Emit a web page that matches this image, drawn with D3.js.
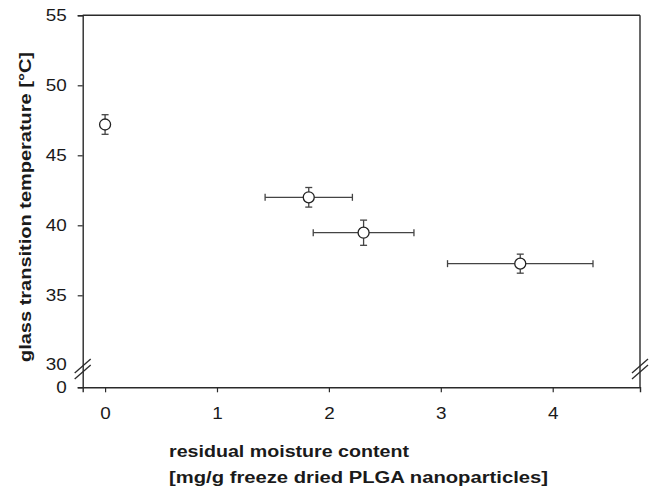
<!DOCTYPE html>
<html>
<head>
<meta charset="utf-8">
<script src="https://cdn.jsdelivr.net/npm/d3@7"></script>
<style>
  html, body { margin: 0; padding: 0; background: #fff; }
  svg { display: block; }
  text { font-family: Arial, "Liberation Sans", Helvetica, sans-serif; fill: #1a1a1a; }
</style>
</head>
<body>
<svg id="chart" width="654" height="489"></svg>
<script>
// ---- data ----
const moisture    = [0, 1.82, 2.31, 3.71];
const moistureErr = [0, 0.39, 0.45, 0.65];
const tg          = [47.2, 42.0, 39.47, 37.26];
const tgErr       = [0.7, 0.7, 0.9, 0.68];
const xTicks = [0, 1, 2, 3, 4];
const yTicks = [0, 35, 40, 45, 50, 55];
const yTickLabels = [0, 30, 35, 40, 45, 50, 55];
const xTitle = ["residual moisture content", "[mg/g freeze dried PLGA nanoparticles]"];
const yTitle = "glass transition temperature [°C]";

const svg = d3.select("#chart");
const L = 82.7, R = 640, T = 15.3, B = 387.3;
const SX = 1.18; // horizontal stretch of the label glyphs

const x = d3.scaleLinear().domain([-0.2, 4.78]).range([L, R]);
// broken axis: 0 .. 30 compressed, 30 .. 55 linear
const y = d3.scaleLinear().domain([0, 30, 55]).range([B, 365.3, T]);

const stroke = "#2a2a2a";

// frame (top & right)
svg.append("line").attr("x1", L).attr("x2", R).attr("y1", T).attr("y2", T)
  .attr("stroke", stroke).attr("stroke-width", 1.4);
svg.append("line").attr("x1", R).attr("x2", R).attr("y1", T).attr("y2", B)
  .attr("stroke", stroke).attr("stroke-width", 1.4);

// x axis
const gx = svg.append("g").attr("transform", `translate(0,${B})`)
  .call(d3.axisBottom(x).tickValues(xTicks).tickSizeOuter(0).tickSize(5).tickPadding(15).tickFormat(d3.format("d")));
gx.select(".domain").attr("stroke", stroke).attr("stroke-width", 1.4);
gx.selectAll(".tick line").attr("stroke", stroke).attr("stroke-width", 1.2);
gx.selectAll(".tick text").attr("font-size", 16).attr("fill", "#1a1a1a")
  .attr("transform", `scale(${SX},1)`);

// y axis
const gy = svg.append("g").attr("transform", `translate(${L},0)`)
  .call(d3.axisLeft(y).tickValues(yTicks).tickSizeOuter(0).tickSize(5).tickPadding(11).tickFormat(d3.format("d")));
gy.select(".domain").attr("stroke", stroke).attr("stroke-width", 1.4);
gy.selectAll(".tick line").attr("stroke", stroke).attr("stroke-width", 1.2);
gy.selectAll(".tick text").attr("font-size", 16).attr("fill", "#1a1a1a")
  .attr("x", -16 / SX).attr("transform", `scale(${SX},1)`);
// label "30" at the break (no tick mark)
gy.append("text").attr("x", -16 / SX).attr("y", y(30)).attr("dy", "0.32em")
  .attr("transform", `scale(${SX},1)`)
  .attr("text-anchor", "end").attr("font-size", 16).attr("fill", "#1a1a1a").text(yTickLabels[1]);

// break marks
function breakMark(cx, cy) {
  [-3, 3].forEach(off => {
    svg.append("line")
      .attr("x1", cx - 8).attr("y1", cy + off + 7)
      .attr("x2", cx + 8).attr("y2", cy + off - 7)
      .attr("stroke", stroke).attr("stroke-width", 1.3);
  });
}
breakMark(L, 369);
breakMark(R, 369);

// data
const data = moisture.map((m, i) => ({ x: m, xe: moistureErr[i], y: tg[i], ye: tgErr[i] }));
const g = svg.append("g");
const errColor = "#444";
data.forEach(d => {
  const cx = x(d.x), cy = y(d.y);
  if (d.xe > 0) {
    const x0 = x(d.x - d.xe), x1 = x(d.x + d.xe);
    g.append("line").attr("x1", x0).attr("x2", x1).attr("y1", cy).attr("y2", cy)
      .attr("stroke", errColor).attr("stroke-width", 1.3);
    [x0, x1].forEach(xx => g.append("line").attr("x1", xx).attr("x2", xx)
      .attr("y1", cy - 3.5).attr("y2", cy + 3.5).attr("stroke", errColor).attr("stroke-width", 1.3));
  }
  const y0 = y(d.y - d.ye), y1 = y(d.y + d.ye);
  g.append("line").attr("x1", cx).attr("x2", cx).attr("y1", y0).attr("y2", y1)
    .attr("stroke", errColor).attr("stroke-width", 1.3);
  [y0, y1].forEach(yy => g.append("line").attr("x1", cx - 3.5).attr("x2", cx + 3.5)
    .attr("y1", yy).attr("y2", yy).attr("stroke", errColor).attr("stroke-width", 1.3));
  g.append("circle").attr("cx", cx).attr("cy", cy).attr("r", 5.5)
    .attr("fill", "#fff").attr("stroke", "#222").attr("stroke-width", 1.3);
});

// titles (stretched to the reference's widths)
svg.append("text").attr("x", 169).attr("y", 457).attr("font-size", 16).attr("font-weight", "bold")
  .attr("textLength", 240).attr("lengthAdjust", "spacingAndGlyphs").text(xTitle[0]);
svg.append("text").attr("x", 169).attr("y", 483).attr("font-size", 16).attr("font-weight", "bold")
  .attr("textLength", 379).attr("lengthAdjust", "spacingAndGlyphs").text(xTitle[1]);
svg.append("text").attr("transform", "translate(31,207) rotate(-90)")
  .attr("text-anchor", "middle").attr("font-size", 16).attr("font-weight", "bold")
  .attr("textLength", 310).attr("lengthAdjust", "spacingAndGlyphs").text(yTitle);
</script>
</body>
</html>
